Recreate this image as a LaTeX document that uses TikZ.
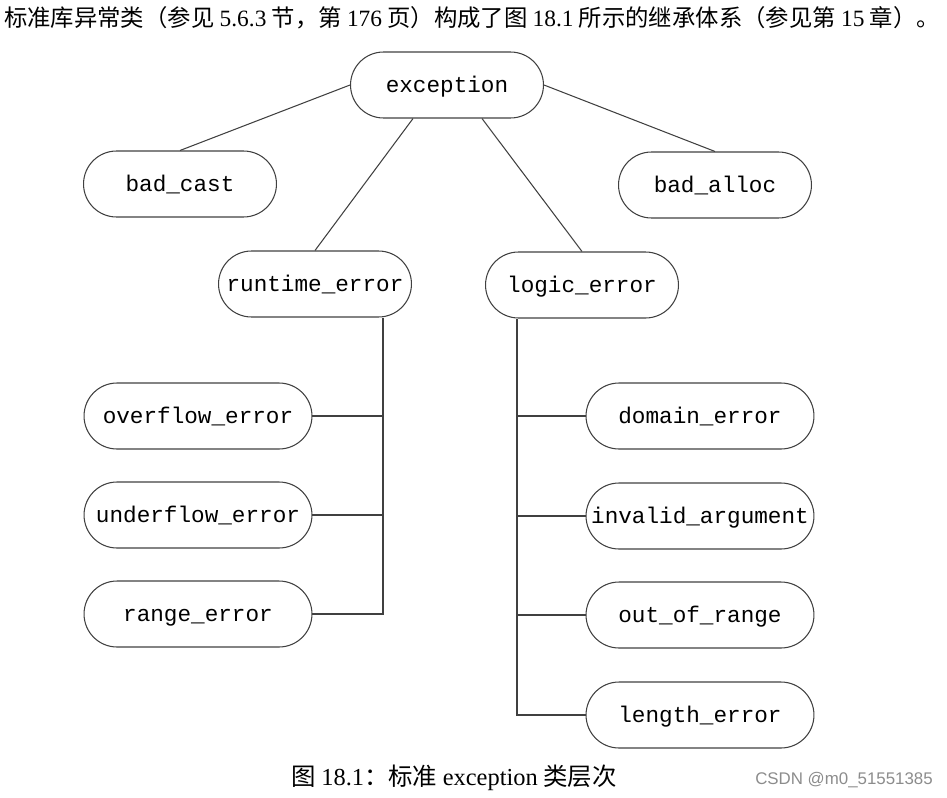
\documentclass[tikz,border=0pt]{standalone}
\usepackage{fontspec}
\setmainfont{Liberation Serif}
\setmonofont{Liberation Mono}
\newfontfamily\cjk{Noto Sans CJK SC}
\newfontfamily\wmfont{Liberation Sans}
\usetikzlibrary{shapes.misc}

\begin{document}
\begin{tikzpicture}
  [x=0.02cm,y=-0.02cm,
   cls/.style={rounded rectangle,draw=black!75,line width=0.6pt,minimum height=1.32cm,
     inner xsep=2pt,text height=10.5pt,text depth=2pt,
     font=\ttfamily\fontsize{12.9}{15}\selectfont},
   short/.style={cls,minimum width=4cm},
   long/.style={cls,minimum width=4.7cm},
   txt/.style={inner sep=0pt}]
  \useasboundingbox (0,0) rectangle (947,798);

  \node[txt,font=\fontsize{13.3}{15}\selectfont] (intro) at (472,18) {\cjk 标准库异常类（参见 {\rmfamily 5.6.3} 节，第 {\rmfamily 176} 页）构成了图 {\rmfamily 18.1} 所示的继承体系（参见第 {\rmfamily 15} 章）。};

  \node[short] (exc) at (447,85)  {exception};
  \node[short] (bc)  at (180,184) {bad\_cast};
  \node[short] (ba)  at (715,185) {bad\_alloc};
  \node[short] (rt)  at (315,284) {runtime\_error};
  \node[short] (le)  at (582,285) {logic\_error};

  \node[long] (ofe) at (198,416) {overflow\_error};
  \node[long] (ufe) at (198,515) {underflow\_error};
  \node[long] (rge) at (198,614) {range\_error};

  \node[long] (dom) at (700,416) {domain\_error};
  \node[long] (inv) at (700,516) {invalid\_argument};
  \node[long] (oor) at (700,615) {out\_of\_range};
  \node[long] (len) at (700,715) {length\_error};

  \node[txt,font=\fontsize{13.9}{16}\selectfont] (cap) at (454,778) {\cjk 图 {\rmfamily 18.1}：标准 {\rmfamily exception} 类层次};
  \node[txt,text=black!45,font=\wmfont\fontsize{9.6}{12}\selectfont] (wm) at (844,780) {CSDN @m0\_51551385};

  \coordinate (rtbus) at ([xshift=1.36cm]rt.south);
  \coordinate (lebus) at ([xshift=-1.3cm]le.south);

  \begin{scope}[draw=black!75,line width=0.6pt]
  \draw (exc.west) -- (bc.north);
  \draw (exc.east) -- (ba.north);
  \draw ([xshift=-0.68cm]exc.south) -- (rt.north);
  \draw ([xshift=0.7cm]exc.south) -- (le.north);

  \draw (rtbus) |- (rge.east);
  \foreach \n in {ofe,ufe}
    \draw (\n.east) -- (\n.east -| rtbus);
  \draw (lebus) |- (len.west);
  \foreach \n in {dom,inv,oor}
    \draw (\n.west) -- (\n.west -| lebus);
  \end{scope}
\end{tikzpicture}
\end{document}
